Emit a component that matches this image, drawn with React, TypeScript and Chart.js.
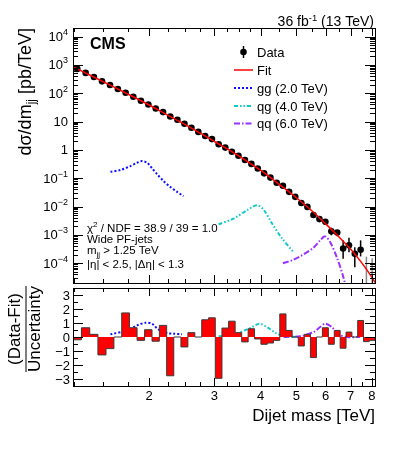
import { useEffect, useRef } from "react";
import { Chart, registerables } from "chart.js";
Chart.register(...registerables);

// ---------------- data ----------------
const binEdges = [1.246, 1.313, 1.383, 1.455, 1.53, 1.607, 1.687, 1.77, 1.856, 1.945, 2.037, 2.132, 2.231, 2.332, 2.438, 2.546, 2.659, 2.775, 2.895, 3.019, 3.147, 3.279, 3.416, 3.558, 3.704, 3.854, 4.01, 4.171, 4.337, 4.509, 4.686, 4.869, 5.058, 5.253, 5.455, 5.663, 5.877, 6.099, 6.328, 6.564, 6.808, 7.06, 7.32, 7.589, 7.866, 8.152];

// dσ/dm [pb/TeV] per bin (null = no events)
const dataValues = [721, 520, 375, 262, 195, 141, 104, 75, 54, 40, 29, 21.5, 15, 11.5, 8.3, 6.0, 4.3, 3.1, 2.4, 1.58, 1.2, 0.86, 0.62, 0.44, 0.32, 0.22, 0.148, 0.105, 0.069, 0.054, 0.033, 0.022, 0.0134, 0.0097, 0.005, 0.0036, 0.0029, 0.00133, 0.0012, 0.00033, 0.00043, 0.000215, 0.0003, null, null];
// error bar ends (null = hidden by the marker)
const dataErrLow = [null, null, null, null, null, null, null, null, null, null, null, null, null, null, null, null, null, null, null, null, null, null, null, null, null, null, null, null, null, null, null, null, null, null, null, null, null, 0.00096, 0.000885, 0.000143, 0.000245, 0.0000721, 0.000173, 0, 0];
const dataErrHigh = [null, null, null, null, null, null, null, null, null, null, null, null, null, null, null, null, null, null, null, null, null, null, null, null, null, null, null, null, null, null, null, null, null, null, null, null, null, 0.0018, 0.00145, 0.00064, 0.00079, 0.000369, 0.00064, 0.00017, 0.00015];

const fitMass = [1.246, 1.4, 1.6, 1.8, 2.0, 2.25, 2.5, 2.75, 3.0, 3.25, 3.5, 3.75, 4.0, 4.5, 5.0, 5.5, 6.0, 6.5, 7.0, 7.5, 8.0, 8.152];
const fitValues = [849, 406, 171, 78.2, 38.3, 16.5, 7.89, 3.88, 2.0, 1.08, 0.6, 0.336, 0.191, 0.0596, 0.0204, 0.00708, 0.00245, 0.00087, 0.000316, 0.000105, 0.0000316, 0.0000209];

const ggMass = [1.573, 1.673, 1.781, 1.856, 1.915, 1.975, 2.038, 2.101, 2.189, 2.281, 2.38, 2.478];
const ggValues = [0.169, 0.194, 0.268, 0.352, 0.404, 0.352, 0.222, 0.14, 0.079, 0.0495, 0.033, 0.0232];
const qgMass = [3.082, 3.383, 3.676, 3.912, 4.076, 4.294, 4.568, 4.91];
const qgValues = [0.00236, 0.00375, 0.0074, 0.0111, 0.00776, 0.00257, 0.00076, 0.000245];
const qqMass = [4.597, 4.91, 5.224, 5.56, 5.795, 5.978, 6.166, 6.429, 6.699, 6.9];
const qqValues = [0.0001, 0.000132, 0.000204, 0.000352, 0.000638, 0.000885, 0.000556, 0.000163, 0.0000316, 0.0000063];

// (Data-Fit)/Uncertainty per bin
const residuals = [-0.2, 0.66, 0.19, -1.28, -0.83, 0, 1.72, 0.66, -0.24, 0.52, -0.3, 0.83, -2.77, 0, -0.71, 0.31, 0, 1.23, 1.37, -2.95, 0.64, 1.13, 0.31, -0.35, 0.59, -0.14, -0.52, -0.43, -0.24, 1.65, 0.47, 0, -0.64, 0.19, -1.47, 0, 0.66, -0.52, 0.47, -0.8, 0.35, 0, 1.18, -0.33, -0.24];

const ggResMass = [1.573, 1.745, 1.856, 1.955, 2.038, 2.123, 2.237, 2.33, 2.455];
const ggResValues = [0.19, 0.47, 0.83, 1.02, 0.95, 0.52, 0.28, 0.24, 0.19];
const qgResMass = [3.082, 3.383, 3.752, 3.975, 4.204, 4.43, 4.713, 5.015];
const qgResValues = [0.05, 0.19, 0.64, 0.95, 0.64, 0.24, 0.05, 0];
const qqResMass = [4.615, 5.119, 5.56, 5.795, 5.978, 6.232, 6.494, 6.842, 7.43];
const qqResValues = [0, 0.05, 0.35, 0.71, 0.95, 0.71, 0.19, 0, 0];

const xMajorTicks = [2, 3, 4, 5, 6, 7, 8];
const xTickLabels = ["2", "3", "4", "5", "6", "7", "8"];
const xMinorTicks = [1.25, 1.5, 1.75, 2.25, 2.5, 2.75, 3.25, 3.5, 3.75, 4.5, 5.5, 6.5, 7.5];
const yExponents = [-4, -3, -2, -1, 0, 1, 2, 3, 4];
const resTicks = [-3, -2, -1, 0, 1, 2, 3];
const resTickLabels = ["\u22123", "\u22122", "\u22121", "0", "1", "2", "3"];

// ---------------- style ----------------
const FONT = "'Liberation Sans', Arial, Helvetica, sans-serif";
const BLUE = "#1010ff";
const CYAN = "#10c8c8";
const PURPLE = "#9933ff";
const RED = "#ff0000";
const DASH_GG = [2, 2];
const DASH_QG = [4, 2, 1.5, 2, 1.5, 2];
const DASH_QQ = [6, 2, 1.5, 2];

type Part = { t: string; s: number; dy?: number; bold?: boolean };

function richWidth(ctx: CanvasRenderingContext2D, parts: Part[]) {
  let w = 0;
  for (const p of parts) {
    ctx.font = `${p.bold ? "bold " : ""}${p.s}px ${FONT}`;
    w += ctx.measureText(p.t).width;
  }
  return w;
}

function drawRich(ctx: CanvasRenderingContext2D, parts: Part[], x: number, y: number, align: "left" | "right" | "center", color = "#000") {
  const w = richWidth(ctx, parts);
  let cx = align === "left" ? x : align === "right" ? x - w : x - w / 2;
  ctx.fillStyle = color;
  ctx.textBaseline = "alphabetic";
  ctx.textAlign = "left";
  for (const p of parts) {
    ctx.font = `${p.bold ? "bold " : ""}${p.s}px ${FONT}`;
    ctx.fillText(p.t, cx, y + (p.dy || 0));
    cx += ctx.measureText(p.t).width;
  }
}

function binCenters() {
  const c: number[] = [];
  for (let i = 0; i < binEdges.length - 1; i++) c.push((binEdges[i] + binEdges[i + 1]) / 2);
  return c;
}

function xTicksDraw(ctx: CanvasRenderingContext2D, chart: any, major: number, minor: number) {
  const { top, bottom } = chart.chartArea;
  const xs = chart.scales.x;
  ctx.beginPath();
  for (const v of xMajorTicks) {
    const px = Math.round(xs.getPixelForValue(v)) + 0.5;
    ctx.moveTo(px, bottom); ctx.lineTo(px, bottom - major);
    ctx.moveTo(px, top); ctx.lineTo(px, top + major);
  }
  for (const v of xMinorTicks) {
    const px = Math.round(xs.getPixelForValue(v)) + 0.5;
    ctx.moveTo(px, bottom); ctx.lineTo(px, bottom - minor);
    ctx.moveTo(px, top); ctx.lineTo(px, top + minor);
  }
  ctx.stroke();
}

const topDecor = {
  id: "topDecor",
  beforeDatasetsDraw(chart: any) {
    const ctx = chart.ctx;
    const xs = chart.scales.x, ys = chart.scales.y;
    const centers = binCenters();
    ctx.save();
    ctx.lineWidth = 1.5;
    for (let i = 0; i < centers.length; i++) {
      const hi = dataErrHigh[i];
      if (hi == null) continue;
      const lo = dataErrLow[i] as number;
      const px = xs.getPixelForValue(centers[i]);
      const pHi = ys.getPixelForValue(hi);
      const pLo = lo > 0 ? ys.getPixelForValue(lo) : chart.chartArea.bottom;
      ctx.strokeStyle = dataValues[i] == null ? "#888" : "#000";
      ctx.beginPath(); ctx.moveTo(px, pHi); ctx.lineTo(px, pLo); ctx.stroke();
    }
    ctx.restore();
  },
  afterDraw(chart: any) {
    const ctx: CanvasRenderingContext2D = chart.ctx;
    const { left, right, top, bottom } = chart.chartArea;
    const ys = chart.scales.y;
    ctx.save();
    ctx.strokeStyle = "#000";
    ctx.lineWidth = 1;
    ctx.strokeRect(Math.round(left) + 0.5, Math.round(top) + 0.5, Math.round(right - left), Math.round(bottom - top));
    // y ticks
    ctx.beginPath();
    for (let e = -5; e <= 4; e++) {
      for (let j = 1; j <= 9; j++) {
        const v = j * Math.pow(10, e);
        if (v < ys.min || v > ys.max) continue;
        const py = Math.round(ys.getPixelForValue(v)) + 0.5;
        const len = j === 1 ? 10 : 5;
        ctx.moveTo(left, py); ctx.lineTo(left + len, py);
        ctx.moveTo(right, py); ctx.lineTo(right - len, py);
      }
    }
    ctx.stroke();
    xTicksDraw(ctx, chart, 8, 4);
    // y labels
    for (const e of yExponents) {
      const py = ys.getPixelForValue(Math.pow(10, e)) + 4.5;
      if (e === 0) drawRich(ctx, [{ t: "1", s: 13 }], 68, py, "right");
      else if (e === 1) drawRich(ctx, [{ t: "10", s: 13 }], 68, py, "right");
      else drawRich(ctx, [{ t: "10", s: 13 }, { t: e < 0 ? "\u2212" + -e : String(e), s: 9, dy: -6 }], 68, py, "right");
    }
    // y title
    ctx.save();
    ctx.translate(31, 28);
    ctx.rotate(-Math.PI / 2);
    drawRich(ctx, [{ t: "d\u03c3/dm", s: 18 }, { t: "jj", s: 12, dy: 4 }, { t: " [pb/TeV]", s: 18 }], 0, 0, "right");
    ctx.restore();
    // CMS
    drawRich(ctx, [{ t: "CMS", s: 16, bold: true }], 90, 49, "left");
    // lumi
    drawRich(ctx, [{ t: "36 fb", s: 14 }, { t: "-1", s: 9.5, dy: -5.5 }, { t: " (13 TeV)", s: 14 }], 374, 26, "right");
    // legend
    const lx0 = 234, lx1 = 253, tx = 257;
    const rows = [52, 70, 88, 106, 123.5];
    ctx.fillStyle = "#000";
    ctx.beginPath(); ctx.arc(243.5, rows[0], 3.3, 0, Math.PI * 2); ctx.fill();
    ctx.lineWidth = 1.5; ctx.strokeStyle = "#000";
    ctx.beginPath(); ctx.moveTo(243.5, rows[0] - 6); ctx.lineTo(243.5, rows[0] + 6); ctx.stroke();
    const lines: [string, number[]][] = [[RED, []], [BLUE, DASH_GG], [CYAN, DASH_QG], [PURPLE, DASH_QQ]];
    lines.forEach(([c, d], i) => {
      ctx.strokeStyle = c; ctx.lineWidth = i === 0 ? 1.5 : 2; ctx.setLineDash(d);
      ctx.beginPath(); ctx.moveTo(lx0, rows[i + 1]); ctx.lineTo(lx1, rows[i + 1]); ctx.stroke();
    });
    ctx.setLineDash([]);
    const labels = ["Data", "Fit", "gg (2.0 TeV)", "qg (4.0 TeV)", "qq (6.0 TeV)"];
    labels.forEach((l, i) => drawRich(ctx, [{ t: l, s: 13 }], tx, rows[i] + 4.5, "left"));
    // info text
    drawRich(ctx, [{ t: "\u03c7", s: 11.5 }, { t: "2", s: 8, dy: -5 }, { t: " / NDF = 38.9 / 39 = 1.0", s: 11.5 }], 87, 231.5, "left");
    drawRich(ctx, [{ t: "Wide PF-jets", s: 11.5 }], 87, 242.5, "left");
    drawRich(ctx, [{ t: "m", s: 11.5 }, { t: "jj", s: 8, dy: 3 }, { t: " > 1.25 TeV", s: 11.5 }], 87, 254, "left");
    drawRich(ctx, [{ t: "|\u03b7| < 2.5, |\u0394\u03b7| < 1.3", s: 11.5 }], 87, 268, "left");
    ctx.restore();
  },
};

const bottomDecor = {
  id: "bottomDecor",
  afterDraw(chart: any) {
    const ctx: CanvasRenderingContext2D = chart.ctx;
    const { left, right, top, bottom } = chart.chartArea;
    const xs = chart.scales.x, ys = chart.scales.y;
    ctx.save();
    ctx.strokeStyle = "#000";
    ctx.lineWidth = 1;
    ctx.strokeRect(Math.round(left) + 0.5, Math.round(top) + 0.5, Math.round(right - left), Math.round(bottom - top));
    ctx.beginPath();
    for (let v = -3.5; v <= 3.5; v += 0.5) {
      const py = Math.round(ys.getPixelForValue(v)) + 0.5;
      const len = Number.isInteger(v) ? 10 : 5;
      ctx.moveTo(left, py); ctx.lineTo(left + len, py);
      ctx.moveTo(right, py); ctx.lineTo(right - len, py);
    }
    ctx.stroke();
    xTicksDraw(ctx, chart, 8, 4);
    resTicks.forEach((v, i) => drawRich(ctx, [{ t: resTickLabels[i], s: 13 }], 70, ys.getPixelForValue(v) + 4.5, "right"));
    xMajorTicks.forEach((v, i) => drawRich(ctx, [{ t: xTickLabels[i], s: 13 }], xs.getPixelForValue(v), 400, "center"));
    drawRich(ctx, [{ t: "Dijet mass [TeV]", s: 17 }], 375, 421, "right");
    // y title (fraction)
    ctx.save();
    ctx.translate(0, 329);
    ctx.rotate(-Math.PI / 2);
    ctx.font = `17px ${FONT}`;
    const w = ctx.measureText("Uncertainty").width;
    drawRich(ctx, [{ t: "(Data-Fit)", s: 17 }], 0, 19.5, "center");
    ctx.strokeStyle = "#000"; ctx.lineWidth = 1;
    ctx.beginPath(); ctx.moveTo(-w / 2, 26); ctx.lineTo(w / 2, 26); ctx.stroke();
    drawRich(ctx, [{ t: "Uncertainty", s: 17 }], 0, 40, "center");
    ctx.restore();
    ctx.restore();
  },
};

function pts(xs: number[], ys: (number | null)[]) {
  return xs.map((x, i) => ({ x, y: ys[i] }));
}

export default function App() {
  const topRef = useRef<HTMLCanvasElement>(null);
  const botRef = useRef<HTMLCanvasElement>(null);
  useEffect(() => {
    const centers = binCenters();
    const xScale = { type: "logarithmic" as const, min: binEdges[0], max: binEdges[binEdges.length - 1], display: false };
    const common = {
      animation: false as const,
      responsive: false,
      events: [] as any[],
      plugins: { legend: { display: false }, tooltip: { enabled: false } },
    };
    const top = new Chart(topRef.current!, {
      type: "line",
      data: {
        datasets: [
          { data: pts(ggMass, ggValues), borderColor: BLUE, borderWidth: 2, borderDash: DASH_GG, pointRadius: 0, tension: 0.3 },
          { data: pts(qgMass, qgValues), borderColor: CYAN, borderWidth: 2, borderDash: DASH_QG, pointRadius: 0, tension: 0.3 },
          { data: pts(qqMass, qqValues), borderColor: PURPLE, borderWidth: 2, borderDash: DASH_QQ, pointRadius: 0, tension: 0.3 },
          { data: pts(fitMass, fitValues), borderColor: RED, borderWidth: 1.5, pointRadius: 0, cubicInterpolationMode: "monotone" },
          { data: pts(centers, dataValues), showLine: false, pointRadius: 3.3, pointBackgroundColor: "#000", pointBorderColor: "#000", pointBorderWidth: 0 },
        ] as any,
      },
      options: {
        ...common,
        layout: { padding: { left: 73, right: 24, top: 28, bottom: 166 } },
        scales: { x: xScale, y: { type: "logarithmic", min: 2e-5, max: 2e4, display: false } },
      } as any,
      plugins: [topDecor],
    });
    const stepX = [binEdges[0], ...binEdges, binEdges[binEdges.length - 1]];
    const stepY = [0, ...residuals, residuals[residuals.length - 1], 0];
    const bot = new Chart(botRef.current!, {
      type: "line",
      data: {
        datasets: [
          { data: pts(stepX, stepY), stepped: "before", borderColor: "#3a3a3a", borderWidth: 1, backgroundColor: RED, fill: "origin", pointRadius: 0 },
          { data: pts(ggResMass, ggResValues), borderColor: BLUE, borderWidth: 2, borderDash: DASH_GG, pointRadius: 0, tension: 0.3 },
          { data: pts(qgResMass, qgResValues), borderColor: CYAN, borderWidth: 2, borderDash: DASH_QG, pointRadius: 0, tension: 0.3 },
          { data: pts(qqResMass, qqResValues), borderColor: PURPLE, borderWidth: 2, borderDash: DASH_QQ, pointRadius: 0, tension: 0.3 },
        ] as any,
      },
      options: {
        ...common,
        layout: { padding: { left: 73, right: 24, top: 288, bottom: 63 } },
        scales: { x: xScale, y: { type: "linear", min: -3.5, max: 3.5, display: false } },
      } as any,
      plugins: [bottomDecor],
    });
    return () => { top.destroy(); bot.destroy(); };
  }, []);
  const cs: any = { position: "absolute", left: 0, top: 0 };
  return (
    <div style={{ position: "absolute", left: 0, top: 0, width: 399, height: 449, background: "#fff" }}>
      <canvas ref={botRef} width={399} height={449} style={cs} />
      <canvas ref={topRef} width={399} height={449} style={cs} />
    </div>
  );
}
